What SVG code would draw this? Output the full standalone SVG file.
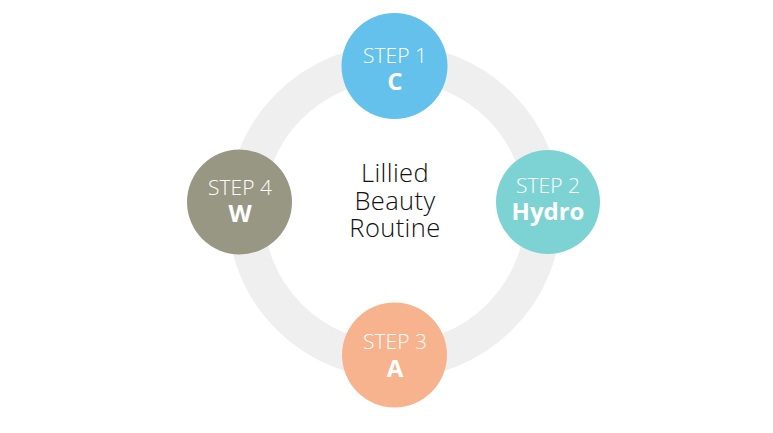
<svg xmlns="http://www.w3.org/2000/svg" width="773" height="433" viewBox="0 0 773 433">
<style>
.step{font-family:"Open Sans","Liberation Sans",sans-serif;font-weight:300;font-size:21px;fill:#ffffff;text-anchor:middle}
.name{font-family:"Open Sans","Liberation Sans",sans-serif;font-weight:700;font-size:24px;fill:#ffffff;text-anchor:middle}
.title{font-family:"Open Sans","Liberation Sans",sans-serif;font-weight:300;font-size:25.5px;letter-spacing:0.4px;fill:#111111;text-anchor:middle}
</style>
<rect width="773" height="433" fill="#ffffff"/>
<g id="connectors">
<circle cx="394.5" cy="211.5" r="149" fill="none" stroke="#efefef" stroke-width="36"/>
</g>
<g id="center">
<text class="title" x="395" y="182">Lillied</text>
<text class="title" x="395" y="209.5">Beauty</text>
<text class="title" x="395" y="237">Routine</text>
</g>
<g id="step1">
<circle cx="394.5" cy="66" r="53" fill="#63c1ec"/>
<text class="step" x="395" y="62.5">STEP 1</text>
<text class="name" x="395" y="90">C</text>
</g>
<g id="step2">
<circle cx="548" cy="202" r="52" fill="#7dd3d3"/>
<text class="step" x="548" y="193">STEP 2</text>
<text class="name" x="548" y="220">Hydro</text>
</g>
<g id="step3">
<circle cx="394.5" cy="355" r="52.5" fill="#f6b38d"/>
<text class="step" x="395" y="349">STEP 3</text>
<text class="name" x="395" y="376.5">A</text>
</g>
<g id="step4">
<circle cx="239.5" cy="202" r="52.5" fill="#989784"/>
<text class="step" x="240" y="195">STEP 4</text>
<text class="name" x="240" y="221.5">W</text>
</g>
</svg>
